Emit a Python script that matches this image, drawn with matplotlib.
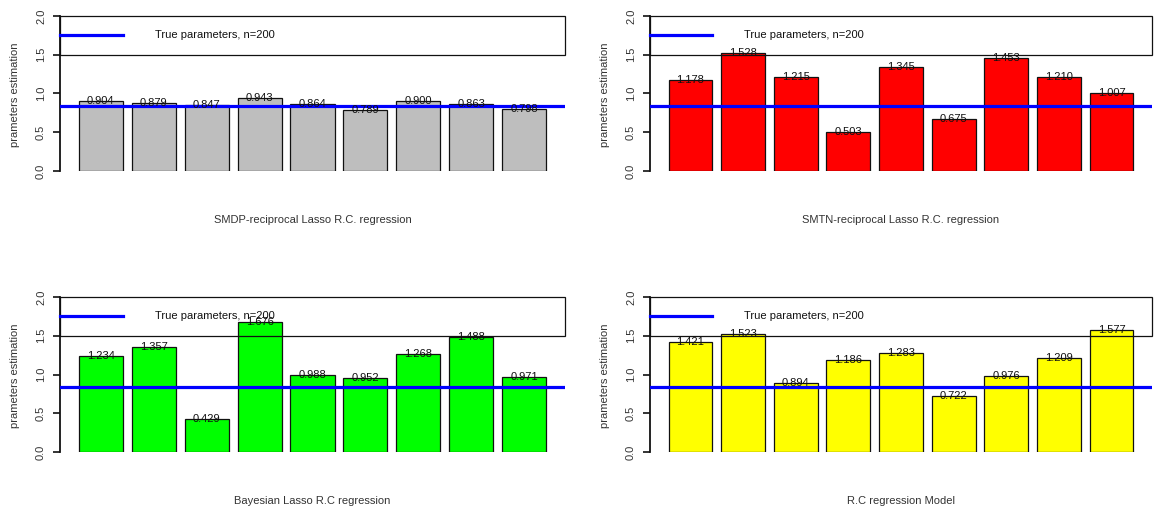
import matplotlib
matplotlib.use("Agg")
import matplotlib.pyplot as plt
import numpy as np
from matplotlib.patches import Rectangle

plt.rcParams["font.family"] = ["Liberation Sans", "DejaVu Sans"]

smdp = [0.904, 0.879, 0.847, 0.943, 0.864, 0.789, 0.900, 0.863, 0.798]
smtn = [1.178, 1.528, 1.215, 0.503, 1.345, 0.675, 1.453, 1.210, 1.007]
bayes = [1.234, 1.357, 0.429, 1.676, 0.988, 0.952, 1.268, 1.488, 0.971]
rc_model = [1.421, 1.523, 0.894, 1.186, 1.283, 0.722, 0.976, 1.209, 1.577]

titles = ["SMDP-reciprocal Lasso R.C. regression",
          "SMTN-reciprocal Lasso R.C. regression",
          "Bayesian Lasso R.C regression",
          "R.C regression Model"]
bar_colors = ["#BEBEBE", "#FF0000", "#00FF00", "#FFFF00"]
series = [smdp, smtn, bayes, rc_model]
true_param = 0.845
legend_text = "True parameters, n=200"
ylabel = "prameters estimation"
yticks = [0.0, 0.5, 1.0, 1.5, 2.0]

W, H = 1155, 514
fig = plt.figure(figsize=(W / 100, H / 100), dpi=100)

# panel boxes in pixels: (left, right, y_of_2, y_of_0)
boxes = [(60, 565, 16, 171), (650, 1152, 16, 171),
         (60, 565, 297, 452), (650, 1152, 297, 452)]

x0, x1 = -0.224, 11.224
for vals, title, col, (l, r, t, b) in zip(series, titles, bar_colors, boxes):
    ax = fig.add_axes([l / W, 1 - b / H, (r - l) / W, (b - t) / H])
    n = len(vals)
    centers = 0.2 + np.arange(n) * 1.2 + 0.5
    ax.bar(centers, vals, width=1.0, color=col, edgecolor="#111111", linewidth=0.9, zorder=2)
    for xc, v in zip(centers, vals):
        ax.text(xc, v, f"{v:.3f}", ha="center", va="center", fontsize=8, color="#111111", zorder=5)
    ax.axhline(true_param, color="#0000FF", lw=2.3, zorder=4)

    # legend box across the top
    ax.add_patch(Rectangle((x0, 1.5), x1 - x0, 0.5, fill=False, edgecolor="#111111",
                           lw=0.9, clip_on=False, zorder=3))
    ax.plot([x0, 1.2], [1.75, 1.75], color="#0000FF", lw=2.3, zorder=4, clip_on=False)
    ax.text(1.93, 1.75, legend_text, ha="left", va="center", fontsize=8, color="#111111")

    ax.set_xlim(x0, x1)
    ax.set_ylim(0, 2)
    for s in ["top", "right", "bottom"]:
        ax.spines[s].set_visible(False)
    ax.spines["left"].set_linewidth(1.3)
    ax.spines["left"].set_color("#111111")
    ax.set_xticks([])
    ax.set_yticks(yticks)
    ax.set_yticklabels([f"{v:.1f}" for v in yticks], rotation=90, va="center",
                       fontsize=8, color="#333333")
    ax.tick_params(axis="y", length=5, width=1.2, pad=5, color="#111111")
    ax.patch.set_visible(False)

    ax.text(0.5, -0.316, title, transform=ax.transAxes, ha="center", va="center",
            fontsize=8, color="#333333")
    ax.text(-0.089, 0.49, ylabel, transform=ax.transAxes, ha="center", va="center",
            rotation=90, fontsize=8, color="#333333")

fig.savefig("out.png", dpi=100, facecolor="white")
